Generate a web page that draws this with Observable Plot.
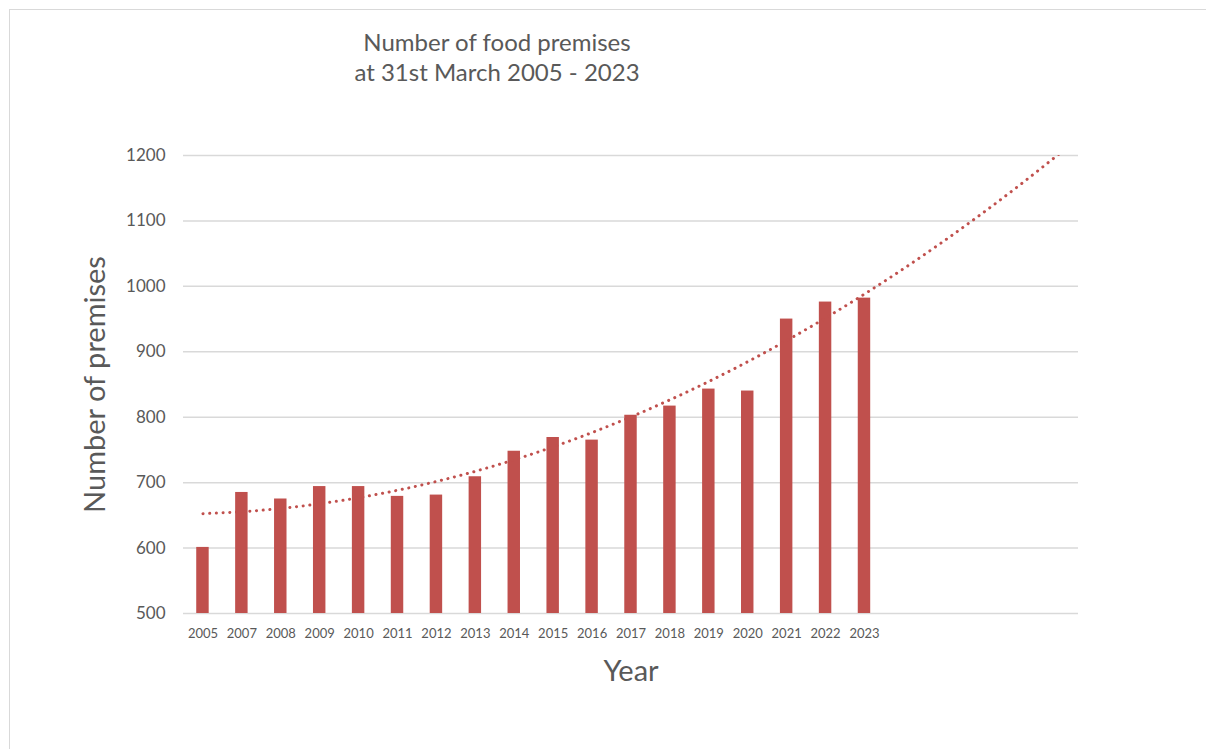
<!DOCTYPE html>
<html>
<head>
<meta charset="utf-8">
<script src="https://cdn.jsdelivr.net/npm/d3@7"></script>
<script src="https://cdn.jsdelivr.net/npm/@observablehq/plot@0.6"></script>
<style>
  html, body { margin: 0; padding: 0; background: #fff; }
  #wrap { position: relative; width: 1206px; height: 749px; font-family: Lato, "Open Sans", sans-serif; overflow: hidden; }
  #border { position: absolute; left: 9px; top: 9px; width: 1300px; height: 900px; border: 1px solid #D9D9D9; box-sizing: border-box; }
  #title { position: absolute; left: 247px; width: 500px; top: 27px; text-align: center; font-size: 24px; line-height: 30px; color: #595959; }
  #chart { position: absolute; left: 0; top: 0; }
</style>
</head>
<body>
<div id="wrap">
  <div id="border"></div>
  <div id="chart"></div>
  <div id="title">Number of food premises<br>at 31st March 2005 - 2023</div>
</div>
<script>
const years = ["2005","2007","2008","2009","2010","2011","2012","2013","2014","2015","2016","2017","2018","2019","2020","2021","2022","2023"];
const premises = [601,685,675,694,694,679,681,709,748,769,765,803,817,843,840,950,976,982];
const forecastPeriods = 5;
const yTicks = [500,600,700,800,900,1000,1100,1200];

const n = years.length;
const slots = d3.range(n + forecastPeriods);
const data = years.map((y, i) => ({i, year: y, value: premises[i]}));

// Quadratic (order 2) least-squares trendline with forward forecast
function polyfit2(xs, ys) {
  let S = [0,0,0,0,0], T = [0,0,0];
  xs.forEach((x, k) => {
    for (let p = 0; p < 5; p++) S[p] += Math.pow(x, p);
    for (let p = 0; p < 3; p++) T[p] += ys[k] * Math.pow(x, p);
  });
  const A = [[S[0],S[1],S[2],T[0]],[S[1],S[2],S[3],T[1]],[S[2],S[3],S[4],T[2]]];
  for (let c = 0; c < 3; c++) {
    for (let r = c + 1; r < 3; r++) {
      const f = A[r][c] / A[c][c];
      for (let k = c; k < 4; k++) A[r][k] -= f * A[c][k];
    }
  }
  const b = [0,0,0];
  for (let r = 2; r >= 0; r--) {
    let s = A[r][3];
    for (let k = r + 1; k < 3; k++) s -= A[r][k] * b[k];
    b[r] = s / A[r][r];
  }
  return b;
}
const coef = polyfit2(data.map(d => d.i + 1), premises);
const trend = slots.map(i => ({i, value: coef[0] + coef[1]*(i+1) + coef[2]*(i+1)*(i+1)}));

const chart = Plot.plot({
  width: 1206,
  height: 749,
  marginLeft: 183,
  marginRight: 128,
  marginTop: 155,
  marginBottom: 136,
  style: {fontFamily: "Lato, 'Open Sans', sans-serif", color: "#595959", background: "transparent"},
  x: {domain: slots, paddingInner: 0.68, paddingOuter: 0.34, align: 0.5, round: false},
  y: {domain: [500, 1200]},
  marks: [
    Plot.gridY(yTicks, {stroke: "#D9D9D9", strokeOpacity: 1, strokeWidth: 1.5}),
    Plot.barY(data, {x: "i", y1: 500, y2: "value", fill: "#C0504D"}),
    Plot.line(trend, {x: "i", y: "value", stroke: "#C0504D", strokeWidth: 3, strokeDasharray: "0.1 6.6", strokeLinecap: "round", curve: "natural", clip: true}),
    Plot.axisY(yTicks, {tickSize: 0, tickPadding: 18, fontSize: 17, fill: "#595959", tickFormat: "d", label: null}),
    Plot.axisX(slots, {tickSize: 0, tickPadding: 15, fontSize: 13, fill: "#595959", tickFormat: i => years[i] ?? "", label: null}),
    Plot.text(["Number of premises"], {frameAnchor: "left", rotate: -90, dx: -88, textAnchor: "middle", lineAnchor: "middle", fontSize: 29, fill: "#595959"}),
    Plot.text(["Year"], {frameAnchor: "bottom", dy: 58, lineAnchor: "middle", fontSize: 29, fill: "#595959"})
  ]
});
document.getElementById("chart").appendChild(chart);
</script>
</body>
</html>
